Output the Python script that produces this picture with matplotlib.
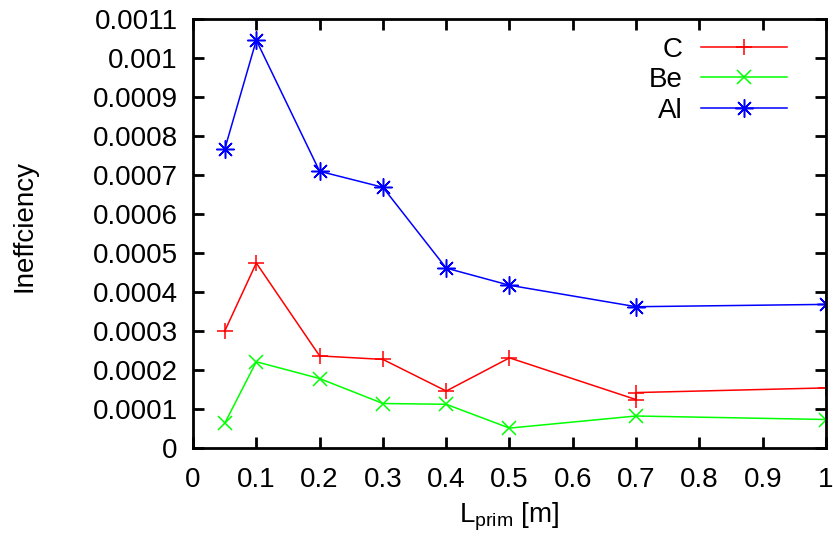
import matplotlib
matplotlib.use("Agg")
import matplotlib.pyplot as plt

plt.rcParams['font.family'] = ['Liberation Sans', 'DejaVu Sans']

x_c = [0.05, 0.1, 0.2, 0.3, 0.4, 0.5, 0.7, 0.7, 1.0]
y_c = [0.000299, 0.000474, 0.000236, 0.000227, 0.000146, 0.000231, 0.000124, 0.000142, 0.000154]

x_be = [0.05, 0.1, 0.2, 0.3, 0.4, 0.5, 0.7, 1.0]
y_be = [0.000063, 0.000221, 0.000178, 0.000114, 0.000112, 0.000051, 0.000082, 0.000073]

x_al = [0.05, 0.1, 0.2, 0.3, 0.4, 0.5, 0.7, 1.0]
y_al = [0.000765, 0.001045, 0.000709, 0.000668, 0.000461, 0.000417, 0.000362, 0.000368]

xticks = [0, 0.1, 0.2, 0.3, 0.4, 0.5, 0.6, 0.7, 0.8, 0.9, 1.0]
xticklabels = ['0', '0.1', '0.2', '0.3', '0.4', '0.5', '0.6', '0.7', '0.8', '0.9', '1']
yticks = [0, 0.0001, 0.0002, 0.0003, 0.0004, 0.0005, 0.0006, 0.0007, 0.0008, 0.0009, 0.001, 0.0011]
yticklabels = ['0', '0.0001', '0.0002', '0.0003', '0.0004', '0.0005', '0.0006',
               '0.0007', '0.0008', '0.0009', '0.001', '0.0011']

fs = 20
fig = plt.figure(figsize=(8.33, 5.41), dpi=100)
ax = fig.add_axes([193/833, 1 - 448/541, (826-193)/833, (448-18.7)/541])

ax.plot(x_c, y_c, color='#ff0000', lw=1.1, marker='+', ms=12, mew=1.1, label='C')
ax.plot(x_be, y_be, color='#00ff00', lw=1.1, marker='x', ms=10, mew=1.1, label='Be')
ax.plot(x_al, y_al, color='#0000ff', lw=1.1, marker=(8, 2, 0), ms=13, mew=1.1, label='Al')

ax.set_xlim(0, 1)
ax.set_ylim(0, 0.0011)
ax.set_xticks(xticks)
ax.set_xticklabels(xticklabels)
ax.set_yticks(yticks)
ax.set_yticklabels(yticklabels)
ax.tick_params(direction='in', length=8, width=2, top=True, right=True, labelsize=fs)
ax.tick_params(axis='x', pad=14)
ax.tick_params(axis='y', pad=11)
for s in ax.spines.values():
    s.set_linewidth(2)

ax.set_xlabel(r'L$_{\mathregular{prim}}$ [m]', fontsize=fs, labelpad=5)
ax.set_ylabel('Ineffciency', fontsize=fs)
ax.yaxis.set_label_coords((37 - 193) / 633, 0.517)

leg = ax.legend(loc='upper right', bbox_to_anchor=(0.938, 0.958), frameon=False,
                markerfirst=False, fontsize=fs, handlelength=3.1, handletextpad=0.65,
                labelspacing=0.16, borderpad=0, borderaxespad=0)

fig.savefig('out.png', dpi=100)
